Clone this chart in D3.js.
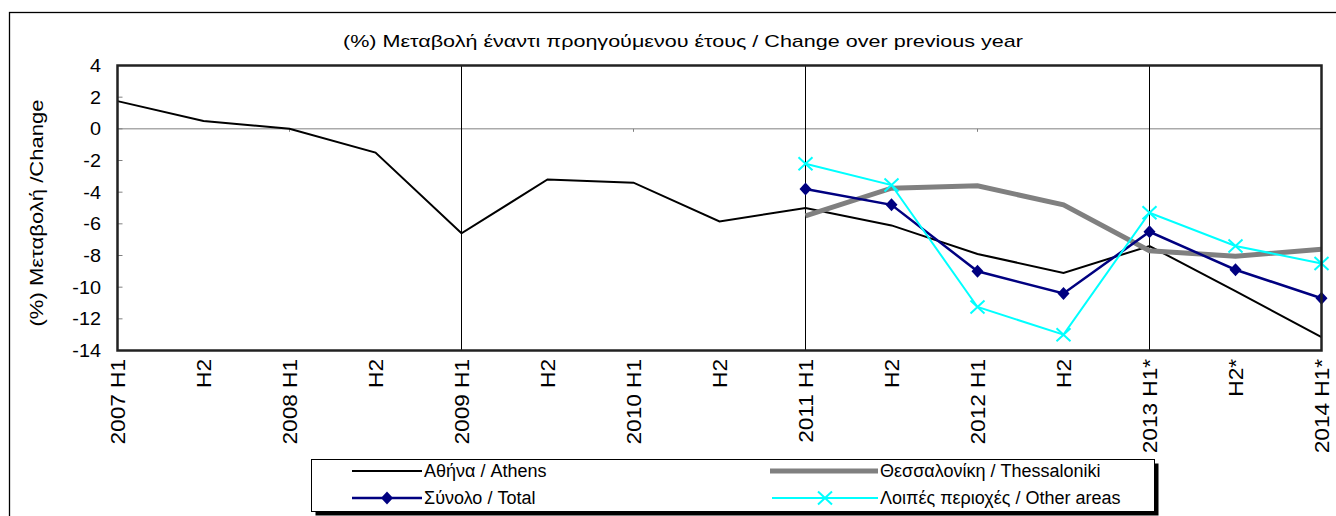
<!DOCTYPE html>
<html><head><meta charset="utf-8">
<script src="https://cdn.jsdelivr.net/npm/d3@7"></script>
<style>html,body{margin:0;padding:0;background:#fff;}svg{display:block;font-family:"Liberation Sans",Arial,sans-serif;}</style>
</head><body>
<svg id="c" width="1336" height="516"></svg>
<script>
const categories = ["2007 H1","H2","2008 H1","H2","2009 H1","H2","2010 H1","H2","2011 H1","H2","2012 H1","H2","2013 H1*","H2*","2014 H1*"];
const athens       = [1.75, 0.5, 0.0, -1.5, -6.6, -3.2, -3.4, -5.85, -5.0, -6.1, -7.9, -9.1, -7.4, -10.25, -13.15];
const thessaloniki = [null,null,null,null,null,null,null,null, -5.5, -3.75, -3.6, -4.8, -7.7, -8.05, -7.6];
const total        = [null,null,null,null,null,null,null,null, -3.8, -4.8, -9.0, -10.4, -6.5, -8.9, -10.7];
const otherAreas   = [null,null,null,null,null,null,null,null, -2.2, -3.55, -11.25, -13.0, -5.3, -7.4, -8.5];
const yTicks = [4,2,0,-2,-4,-6,-8,-10,-12,-14];
const gridCats = ["2009 H1","2011 H1","2013 H1*"];
const seriesNames = ["Αθήνα / Athens","Θεσσαλονίκη / Thessaloniki","Σύνολο / Total","Λοιπές περιοχές / Other areas"];
const title = "(%) Μεταβολή έναντι προηγούμενου έτους / Change over previous year";
const yTitle = "(%) Μεταβολή /Change";

const svg = d3.select("#c");
const L = 117.5, R = 1321.5, T = 65.5, B = 350.5;
const x = d3.scalePoint().domain(d3.range(categories.length)).range([L, R]);
const y = d3.scaleLinear().domain([-14, 4]).range([B, T]);

function stretch(sel, f){ sel.each(function(){ const n=this.getComputedTextLength(); d3.select(this).attr("textLength", n*f).attr("lengthAdjust","spacingAndGlyphs"); }); }

// outer border
svg.append("rect").attr("x",9.5).attr("y",12.5).attr("width",1400).attr("height",600).attr("fill","#fff").attr("stroke","#000").attr("stroke-width",1.3);

// title
svg.append("text").attr("x",683).attr("y",47).attr("text-anchor","middle").attr("font-size",17).text(title)
  .call(s=>s.each(function(){ d3.select(this).attr("textLength",680).attr("lengthAdjust","spacingAndGlyphs"); }));

// plot area
const g = svg.append("g");
g.append("line").attr("x1",L).attr("x2",R).attr("y1",y(0)).attr("y2",y(0)).attr("stroke","#808080").attr("stroke-width",1);
g.selectAll(".zt").data(d3.range(0,categories.length,2)).join("line")
  .attr("x1",d=>x(d)).attr("x2",d=>x(d)).attr("y1",y(0)).attr("y2",y(0)+3).attr("stroke","#808080");
g.selectAll(".vg").data(gridCats.map(c=>categories.indexOf(c))).join("line")
  .attr("x1",d=>x(d)).attr("x2",d=>x(d)).attr("y1",T).attr("y2",B).attr("stroke","#000").attr("stroke-width",1);
g.selectAll(".yt").data(yTicks).join("line").attr("x1",L).attr("x2",L+5).attr("y1",d=>y(d)).attr("y2",d=>y(d)).attr("stroke","#808080");

// y labels
svg.append("g").selectAll("text").data(yTicks).join("text")
  .attr("x",101).attr("y",d=>y(d)).attr("dy","0.36em").attr("text-anchor","end").attr("font-size",18).text(d=>d)
  .call(stretch,1.1);
// y title
svg.append("text").attr("transform","translate(43,213) rotate(-90)").attr("text-anchor","middle").attr("font-size",19).text(yTitle).call(stretch,1.16);
// x labels
svg.append("g").selectAll("text").data(categories).join("text")
  .attr("transform",(d,i)=>`translate(${x(i)},359) rotate(-90)`).attr("dy","0.36em").attr("text-anchor","end").attr("font-size",20).text(d=>d)
  .call(stretch,1.13);

// series
function path(data,color,w){ return svg.append("path").datum(data).attr("fill","none").attr("stroke",color).attr("stroke-width",w).attr("stroke-linejoin","miter")
  .attr("d", d3.line().defined(d=>d.v!=null).x(d=>x(d.i)).y(d=>y(d.v))(data.map((v,i)=>({v,i})))); }
path(athens,"#000",2);
path(thessaloniki,"#808080",5);
path(total,"#000080",2.5);
path(otherAreas,"#00FFFF",2);

const diamond = "M0,-6.5L6,0L0,6.5L-6,0Z";
svg.append("g").selectAll("path").data(total.map((v,i)=>({v,i})).filter(d=>d.v!=null)).join("path")
  .attr("d",diamond).attr("fill","#000080").attr("transform",d=>`translate(${x(d.i)},${y(d.v)})`);
const cross = "M-7,-6.5L7,6.5M-7,6.5L7,-6.5";
svg.append("g").selectAll("path").data(otherAreas.map((v,i)=>({v,i})).filter(d=>d.v!=null)).join("path")
  .attr("d",cross).attr("stroke","#00FFFF").attr("stroke-width",2).attr("fill","none").attr("transform",d=>`translate(${x(d.i)},${y(d.v)})`);

// plot border
svg.append("rect").attr("x",L).attr("y",T).attr("width",R-L).attr("height",B-T).attr("fill","none").attr("stroke","#222").attr("stroke-width",2.5);

// legend
const lg = svg.append("g");
lg.append("rect").attr("x",315.5).attr("y",463.5).attr("width",843).attr("height",52).attr("fill","#000");
lg.append("rect").attr("x",311.5).attr("y",459.5).attr("width",843).attr("height",52).attr("fill","#fff").attr("stroke","#000").attr("stroke-width",1);
const items = [
  {name:seriesNames[0], x1:352, x2:422, y:471, color:"#000", w:2, m:null},
  {name:seriesNames[1], x1:770, x2:878, y:471, color:"#808080", w:5, m:null},
  {name:seriesNames[2], x1:352, x2:422, y:498, color:"#000080", w:2.5, m:"d"},
  {name:seriesNames[3], x1:772, x2:878, y:498, color:"#00FFFF", w:2, m:"x"}
];
items.forEach(it=>{
  lg.append("line").attr("x1",it.x1).attr("x2",it.x2).attr("y1",it.y).attr("y2",it.y).attr("stroke",it.color).attr("stroke-width",it.w);
  const cx=(it.x1+it.x2)/2;
  if(it.m==="d") lg.append("path").attr("d",diamond).attr("fill",it.color).attr("transform",`translate(${cx},${it.y})`);
  if(it.m==="x") lg.append("path").attr("d",cross).attr("stroke",it.color).attr("stroke-width",2).attr("transform",`translate(${cx},${it.y})`);
  lg.append("text").attr("x",it.x2+2).attr("y",it.y).attr("dy","0.36em").attr("font-size",18).text(it.name).call(stretch,1.0);
});
</script>
</body></html>
